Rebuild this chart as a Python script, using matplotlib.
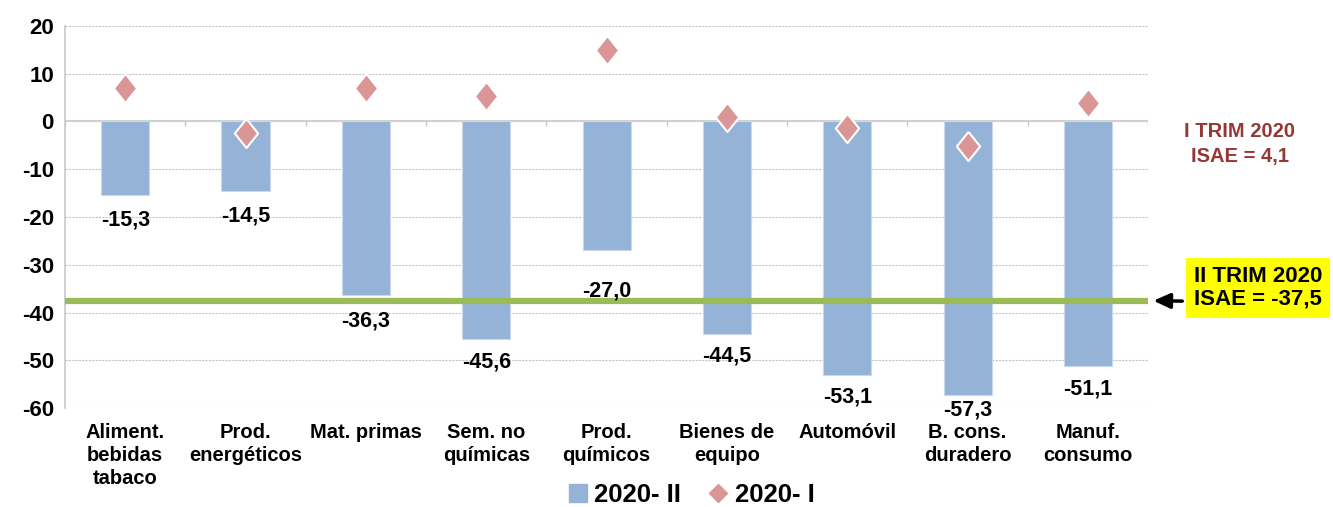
import matplotlib
matplotlib.use("Agg")
import matplotlib.pyplot as plt
import numpy as np
from matplotlib.lines import Line2D

categories = ["Aliment.\nbebidas\ntabaco", "Prod.\nenergéticos", "Mat. primas", "Sem. no\nquímicas",
              "Prod.\nquímicos", "Bienes de\nequipo", "Automóvil", "B. cons.\nduradero", "Manuf.\nconsumo"]
q2_2020 = [-15.3, -14.5, -36.3, -45.6, -27.0, -44.5, -53.1, -57.3, -51.1]
q1_2020 = [6.9, -2.5, 6.9, 5.4, 14.9, 1.0, -1.3, -5.2, 3.8]
isae_q2 = -37.5
isae_q1 = 4.1
yticks = [20, 10, 0, -10, -20, -30, -40, -50, -60]
series_names = ["2020- II", "2020- I"]

plt.rcParams['font.family'] = ['Liberation Sans', 'DejaVu Sans']
fig = plt.figure(figsize=(13.33, 5.07), dpi=100)
ax = fig.add_axes([0.0488, 0.195, 0.8125, 0.754])

x = np.arange(len(categories))
bar_c = "#95B3D7"
dia_c = "#D99694"
ax.bar(x, q2_2020, width=0.4, color=bar_c, edgecolor="#C9D8EA", linewidth=0.8, zorder=2,
       label=series_names[0])

ax.axhline(0, color="#D0D0D0", lw=1.5, zorder=1)
ax.vlines(np.arange(len(categories) + 1) - 0.5, 0, -1.0, color="#C8C8C8", lw=1, zorder=1)

ax.plot([-0.5, len(categories) - 0.5], [isae_q2, isae_q2], color="#9BBB59", lw=4.5, zorder=3,
        solid_capstyle="butt")

dmark = [(0, 1), (0.8, 0), (0, -1), (-0.8, 0), (0, 1)]
ax.plot(x, q1_2020, linestyle="none", marker=dmark, markersize=21, color=dia_c,
        markeredgecolor="white", markeredgewidth=1.5, zorder=4, label=series_names[1])

offsets = [-18, -18, -19, -16, -29, -15.5, -16, -10.5, -17]
for xi, v, off in zip(x, q2_2020, offsets):
    ax.annotate(f"{v:.1f}".replace(".", ","), (xi, v), xytext=(0, off), textcoords="offset points",
                ha="center", va="center", fontsize=15.5, fontweight="bold", zorder=5)

ax.set_xlim(-0.5, len(categories) - 0.5)
ax.set_ylim(-60, 20)
ax.set_yticks(yticks)
ax.set_yticklabels([str(t) for t in yticks], fontsize=16, fontweight="bold")
ax.grid(axis="y", color="#C4C4C4", linestyle=(0, (2, 1)), lw=0.8, zorder=0)
ax.set_axisbelow(True)
ax.set_xticks(x)
ax.set_xticklabels(categories, fontsize=14.5, fontweight="bold", va="top", linespacing=1.25)
ax.tick_params(axis="x", length=0, pad=11)
ax.tick_params(axis="y", length=0, pad=8)
for s in ["top", "right", "bottom"]:
    ax.spines[s].set_visible(False)
ax.spines["left"].set_color("#C8C8C8")
ax.spines["left"].set_linewidth(1.2)

# annotations on the right
fig.text(0.930, 0.716, f"I TRIM 2020\nISAE = {isae_q1:.1f}".replace(".", ","), ha="center", va="center",
         fontsize=14.5, fontweight="bold", color="#953735", linespacing=1.45)
fig.text(0.944, 0.432, f"II TRIM 2020\nISAE = {isae_q2:.1f}".replace(".", ","), ha="center", va="center",
         fontsize=16, fontweight="bold", color="black", linespacing=1.1,
         bbox=dict(boxstyle="square,pad=0.35", fc="yellow", ec="none"))
ax.annotate("", xy=(len(categories) - 0.5 + 0.02, isae_q2), xycoords="data",
            xytext=(0.889, 0.406), textcoords="figure fraction",
            arrowprops=dict(arrowstyle="-|>,head_length=1.0,head_width=0.45", color="black", lw=2.5),
            annotation_clip=False)

h_bar = Line2D([], [], linestyle="none", marker="s", markersize=13, color=bar_c)
h_dia = Line2D([], [], linestyle="none", marker="D", markersize=9, color=dia_c)
fig.legend([h_bar, h_dia], series_names, loc="center", bbox_to_anchor=(0.518, 0.024), ncol=2,
           frameon=False, prop=dict(size=18.5, weight="bold"), handletextpad=0.2, columnspacing=1.0,
           handlelength=0.9)

fig.savefig("out.png", dpi=100)
